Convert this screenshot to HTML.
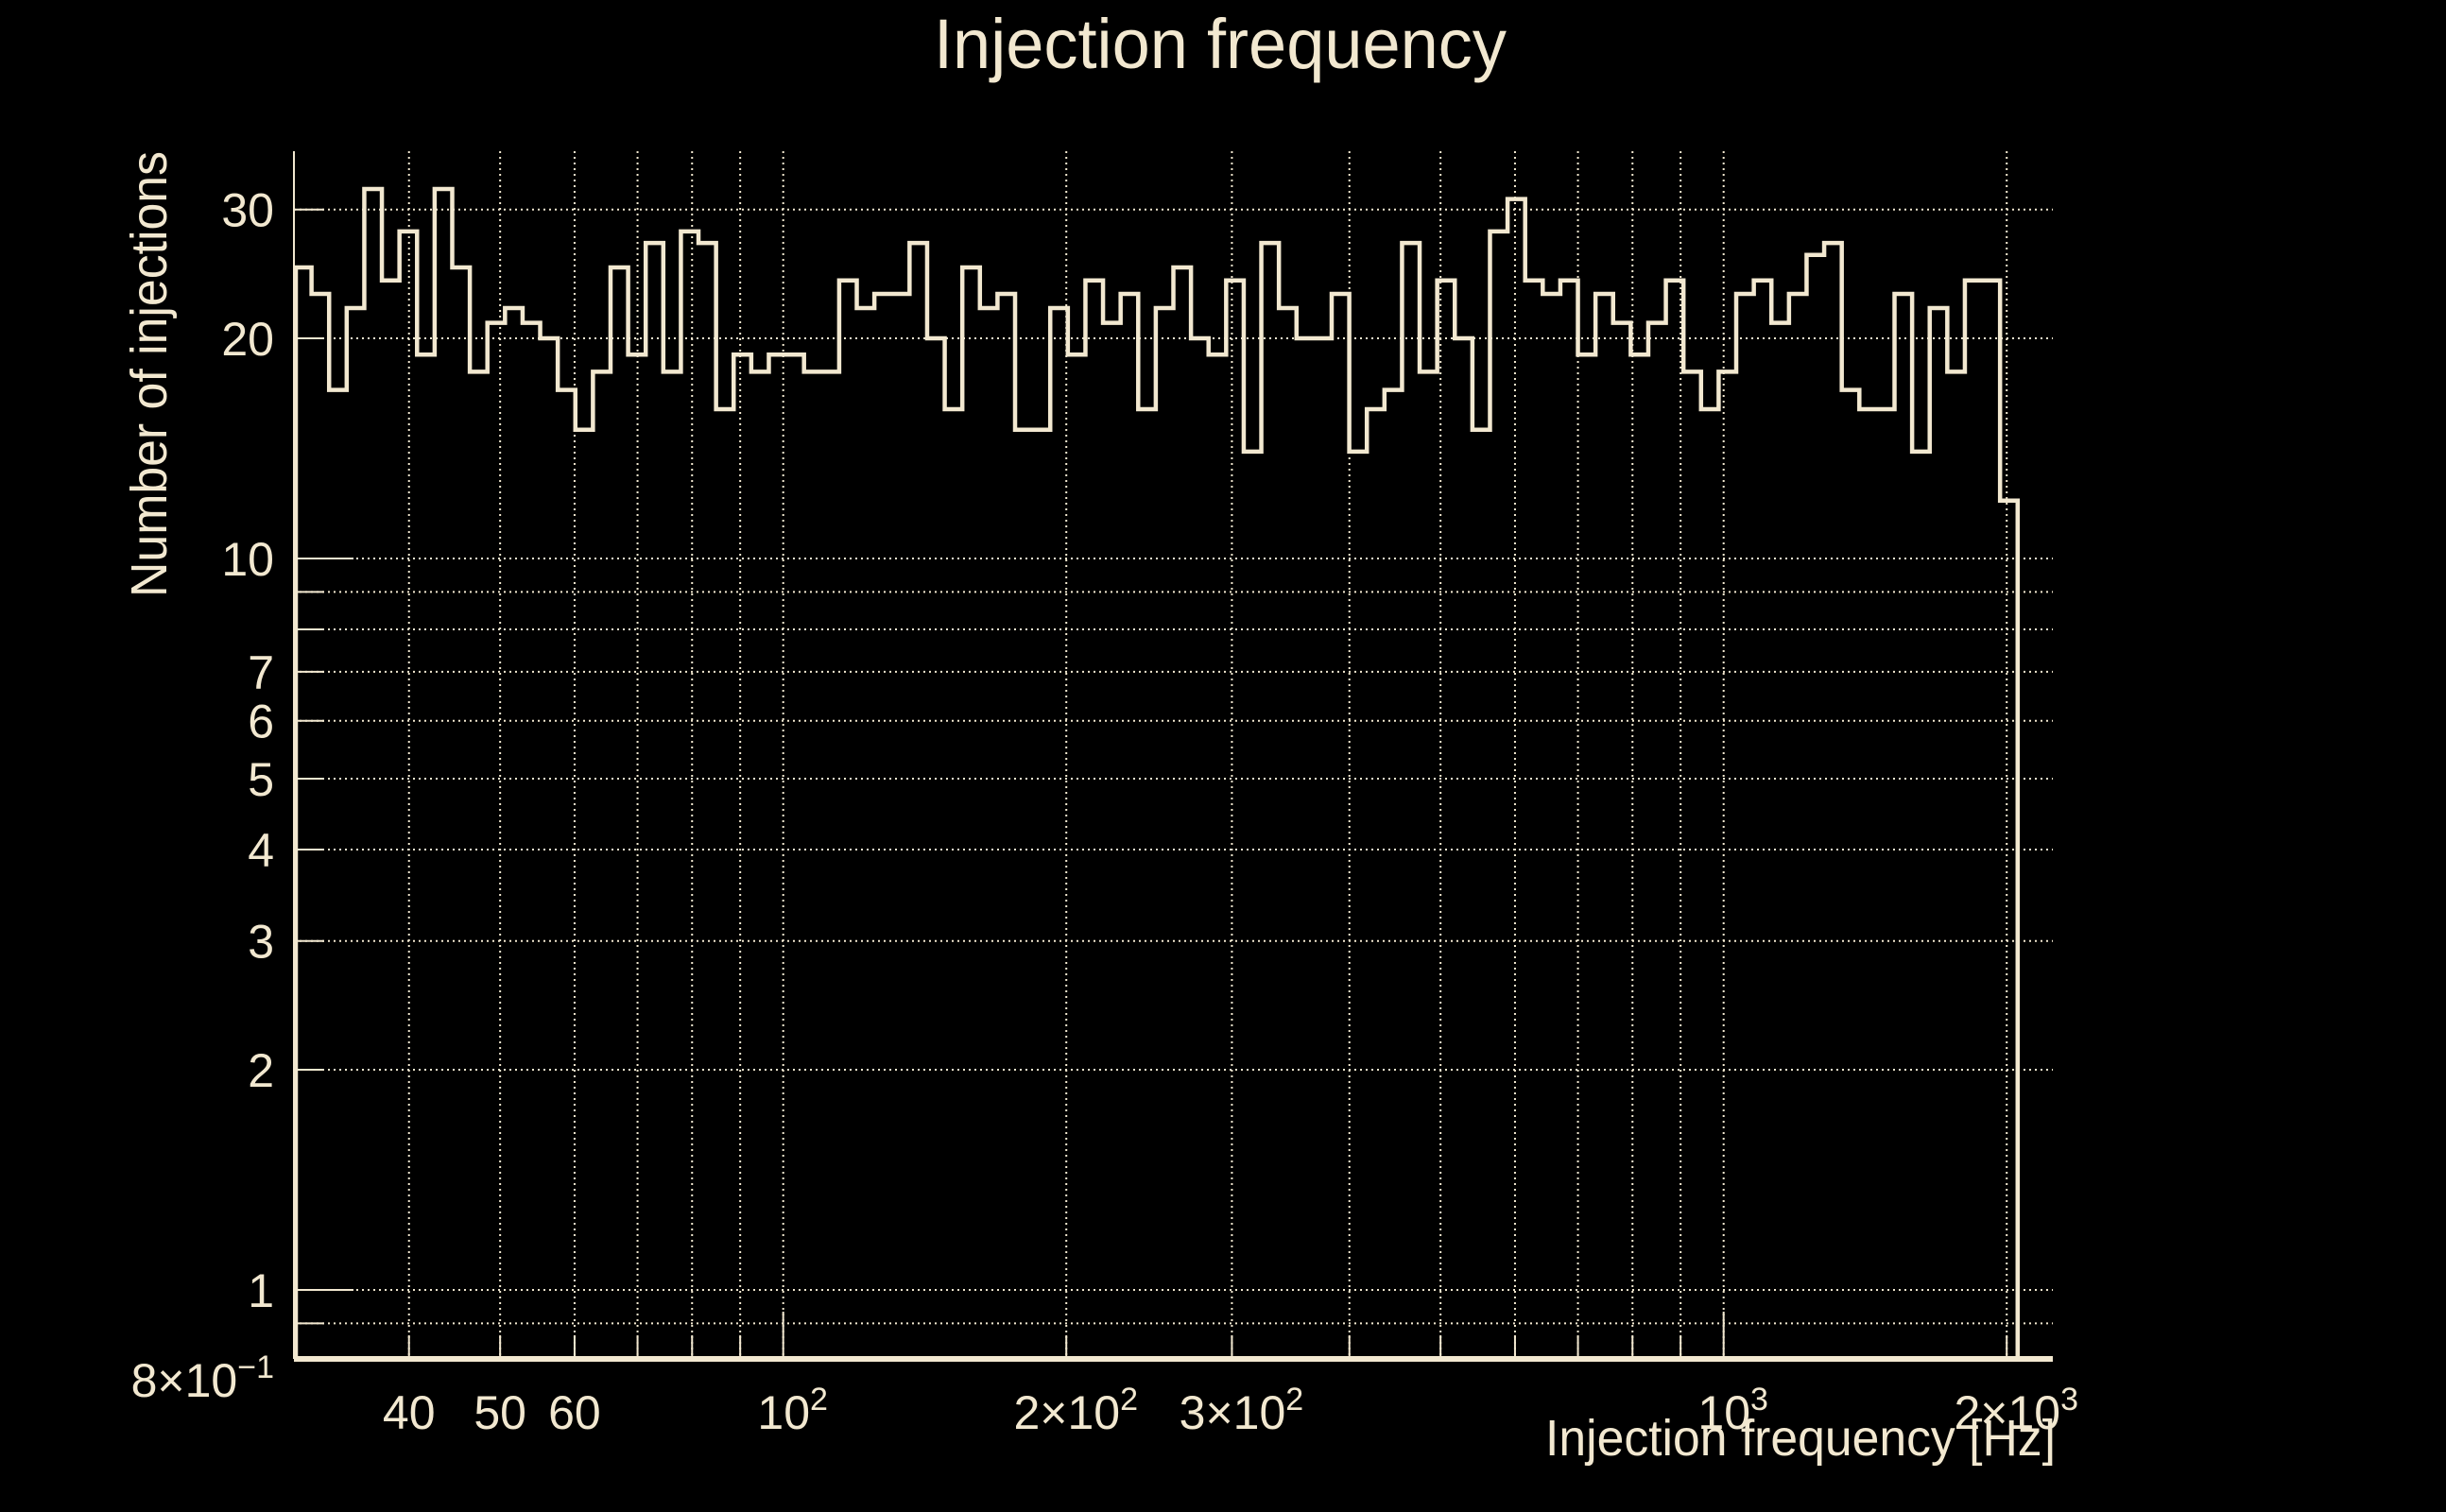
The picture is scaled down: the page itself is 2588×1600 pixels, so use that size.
<!DOCTYPE html>
<html><head><meta charset="utf-8">
<style>
html,body{margin:0;padding:0;background:#000;}
svg{display:block;}
text{font-family:"Liberation Sans Narrow","Liberation Sans",sans-serif;fill:#f2e8d0;}
</style></head>
<body>
<svg id="chart" width="2588" height="1600" viewBox="0 0 2588 1600">
<rect x="0" y="0" width="2588" height="1600" fill="#000"/>
<text x="1291" y="72" font-size="74" text-anchor="middle" textLength="606" lengthAdjust="spacingAndGlyphs">Injection frequency</text>
<text transform="translate(176,396) rotate(-90)" font-size="54" text-anchor="middle" textLength="472" lengthAdjust="spacingAndGlyphs">Number of injections</text>
<text x="2175" y="1540" font-size="54" text-anchor="end" textLength="540" lengthAdjust="spacingAndGlyphs">Injection frequency [Hz]</text>
<g id="grid"></g>
<g id="ticks"></g>
<g id="labels"></g>
<g id="hist"></g>
</svg>
<script>
// data
const binCounts = [25,23,17,22,32,24,28,19,32,25,18,21,22,21,20,17,15,18,25,19,27,18,28,27,16,
19,18,19,19,18,18,24,22,23,23,27,20,16,25,22,23,15,15,22,19,24,21,23,16,22,
25,20,19,24,14,27,22,20,20,23,14,16,17,27,18,24,20,15,28,31,24,23,24,19,23,
21,19,21,24,18,16,18,23,24,21,23,26,27,17,16,16,23,14,22,18,24,24,12,0,0];
const xTickValues = [40,50,60,100,200,300,1000,2000];
const xTickLabels = ["40","50","60","10|2","2×10|2","3×10|2","10|3","2×10|3"];
const xGridValues = [40,50,60,70,80,90,100,200,300,400,500,600,700,800,900,1000,2000];
const yTickValues = [30,20,10,7,6,5,4,3,2,1,0.8];
const yTickLabels = ["30","20","10","7","6","5","4","3","2","1","8×10|−1"];
const yGridValues = [0.9,1,2,3,4,5,6,7,8,9,10,20,30];

const NS="http://www.w3.org/2000/svg";
const C="#f2e8d0";
const L=311,R=2172,T=160,B=1438;
const xLo=Math.log10(30.18), xHi=Math.log10(2239);
const X=v=>L+(Math.log10(v)-xLo)/(xHi-xLo)*(R-L);
const Y=v=>1365-(Math.log10(v))*774;
function mk(tag,attrs,parent){const e=document.createElementNS(NS,tag);for(const k in attrs)e.setAttribute(k,attrs[k]);parent.appendChild(e);return e;}
const grid=document.getElementById('grid'),ticks=document.getElementById('ticks'),labels=document.getElementById('labels'),hist=document.getElementById('hist');

xGridValues.forEach(v=>{const e=mk('line',{x1:X(v),x2:X(v),y1:T,y2:B,stroke:C,'stroke-width':2,'stroke-dasharray':'2 4'},grid);


const t=mk('line',{x1:X(v),x2:X(v),y1:B-(v===100||v===1000?50:25),y2:B,stroke:C,'stroke-width':2},ticks);

});
yGridValues.forEach(v=>{const e=mk('line',{x1:L,x2:R,y1:Y(v),y2:Y(v),stroke:C,'stroke-width':2,'stroke-dasharray':'2 4'},grid);


const major=(v===1||v===10);
const t=mk('line',{x1:L,x2:L+(major?63:32),y1:Y(v),y2:Y(v),stroke:C,'stroke-width':2},ticks);

});

function label(x,y,s,anchor,name){const t=mk('text',{x:x,y:y,'font-size':50,'text-anchor':anchor},labels);


const p=s.split('|');const a=document.createElementNS(NS,'tspan');a.textContent=p[0];t.appendChild(a);
if(p[1]){const b=document.createElementNS(NS,'tspan');b.setAttribute('dy','-20');b.setAttribute('font-size','34');b.textContent=p[1];t.appendChild(b);}}
xTickValues.forEach((v,i)=>label(X(v)+(xTickLabels[i].includes('|')?10:0),1512,xTickLabels[i],'middle','x-tick-label'));
yTickValues.forEach((v,i)=>label(290,Y(v)+18+(v===0.8?20:0),yTickLabels[i],'end','y-tick-label'));

// axes
const ax=mk('line',{x1:L,x2:L,y1:T,y2:B,stroke:C,'stroke-width':2},ticks);


const bx=mk('line',{x1:L,x2:R,y1:B,y2:B,stroke:C,'stroke-width':6},ticks);



// histogram
const n=binCounts.length;
const edge=i=>L+i*(R-L)/n;
let d='M'+(L+2)+','+B;
let prevY=B;
binCounts.forEach((c,i)=>{const y=c>0?Y(c):B;const x0=Math.max(edge(i),L+2);d+=' L'+x0+','+y+' L'+edge(i+1)+','+y;prevY=y;});
d+=' L'+edge(n)+','+B;
const h=mk('path',{d:d,fill:'none',stroke:C,'stroke-width':4.5,'stroke-linejoin':'miter'},hist);


</script>
</body></html>
